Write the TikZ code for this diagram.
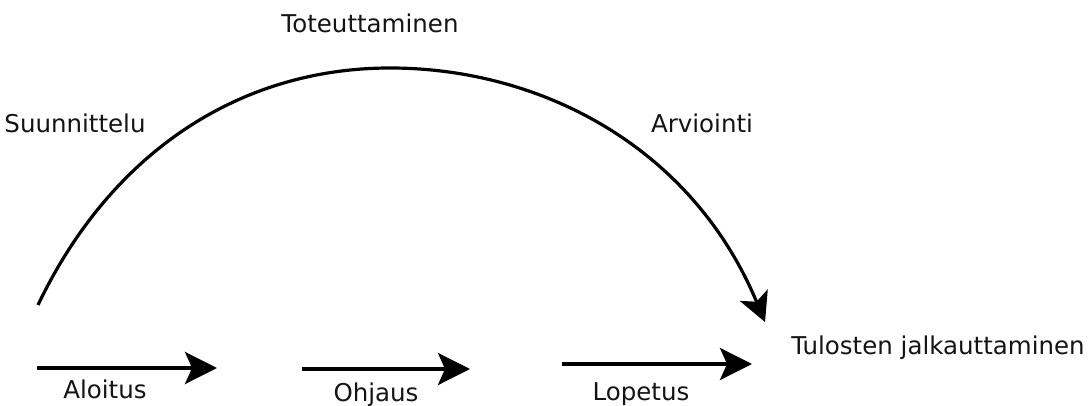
\documentclass[tikz,border=0pt]{standalone}
\usepackage{fontspec}
\setmainfont{DejaVu Sans}
\usetikzlibrary{arrows.meta}
\begin{document}
\begin{tikzpicture}[x=1pt,y=-1pt,
  lbl/.style={inner sep=0pt, anchor=base, text=black!92, font=\fontsize{24.5}{29}\selectfont},
  arr/.style={line width=3.6pt, -{Stealth[length=32pt,width=32pt,inset=7pt]}},
  arcarr/.style={line width=3.2pt, -{Stealth[length=29pt,width=30pt,inset=7pt]}}]
\useasboundingbox (0,0) rectangle (1092,406);
% labels
\node[lbl] (tot) at (370,33) {Toteuttaminen};
\node[lbl] (suu) at (75,133) {Suunnittelu};
\node[lbl] (arv) at (702,133) {Arviointi};
\node[lbl] (alo) at (105,398) {Aloitus};
\node[lbl] (ohj) at (376,401) {Ohjaus};
\node[lbl] (lop) at (641,400) {Lopetus};
\node[lbl] (tul) at (938,354) {Tulosten jalkauttaminen};
% arrow end points
\coordinate (a0) at (37,368);
\coordinate (a1) at (217,368);
\coordinate (o0) at (302,369);
\coordinate (o1) at (470,369);
\coordinate (l0) at (562,364);
\coordinate (l1) at (752,364);
\coordinate (c0) at (38,305);
\coordinate (ctop) at (390,68);
\coordinate (c1) at (765,322);
% arrows
\draw[arr] (a0) -- (a1);
\draw[arr] (o0) -- (o1);
\draw[arr] (l0) -- (l1);
\draw[arcarr] (c0) .. controls (111,152) and (240,68) .. (ctop)
  .. controls (541,68) and (692,147) .. (c1);
\end{tikzpicture}
\end{document}
